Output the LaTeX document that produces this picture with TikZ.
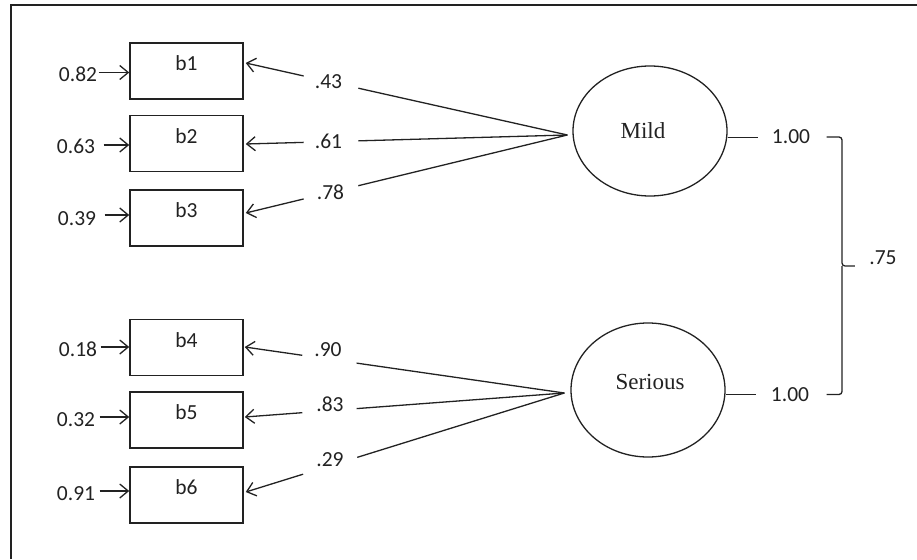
\documentclass[tikz,border=0pt]{standalone}
\usepackage{fontspec}
\setmainfont{Carlito}
\newfontfamily\serifont{Liberation Serif}
\usetikzlibrary{arrows.meta,calc,shapes.geometric}
\definecolor{ink}{HTML}{222222}
\begin{document}
\begin{tikzpicture}[x=1pt,y=-1pt, line width=1.3pt, draw=ink,
  obs/.style={draw=ink, line width=1.5pt, minimum width=113pt, minimum height=56pt, inner sep=0pt},
  lbl/.style={text=ink, font=\fontsize{21.5}{24}\selectfont, inner sep=0pt},
  lattext/.style={text=ink, font=\serifont\fontsize{23}{26}\selectfont, inner sep=0pt},
  latent/.style={draw=ink, ellipse, line width=1.3pt, inner sep=0pt, minimum width=154pt},
  arr/.style={-{Straight Barb[length=8.5pt,width=14pt,line width=1.3pt]}}
]
\useasboundingbox (0,0) rectangle (917,559);
% frame (cropped at right and bottom)
\draw[line width=2pt] (11,559) -- (11,5) -- (917,5);

% observed variables
\foreach \n/\y in {1/71,2/143.5,3/218,4/347.5,5/420,6/495}{
  \node[obs] (b\n) at (186.5,\y) {};
  \node[lbl] (b\n t) at ([yshift=-21pt]b\n.north) {b\n};
}

% error terms
\foreach \n/\x/\y/\v in {1/78/74/0.82,2/76/146/0.63,3/77/219/0.39,4/78/349/0.18,5/76/420/0.32,6/76/494/0.91}{
  \node[lbl] (e\n) at (\x,\y) {\v};
}
\foreach \n/\g/\d in {1/1/1.5,2/8/1,3/8/4,4/3/2,5/4/3,6/4/3}{
  \path ([shift={(\g,-\d)}]e\n.east) coordinate (a\n);
  \draw[arr] (a\n) -- (a\n -| b\n.west);
}

% latent variables
\node[latent, minimum height=130pt] (mild) at (650,131) {};
\node[lattext] (mildt) at (643,131) {Mild};
\node[latent, minimum height=134pt] (serious) at (648,390) {};
\node[lattext] (seriousT) at (650,382) {Serious};
\coordinate (mc) at ([shift={(-5,4)}]mild.west);
\coordinate (sc) at ([shift={(-6,3)}]serious.west);

% loading tips on the boxes
\coordinate (t1) at ([shift={(2,-8)}]b1.east);
\coordinate (t2) at ([shift={(2,0.5)}]b2.east);
\coordinate (t3) at ([shift={(2,-5)}]b3.east);
\coordinate (t4) at ([shift={(1,-0.5)}]b4.east);
\coordinate (t5) at ([shift={(1,-3)}]b5.east);
\coordinate (t6) at ([shift={(2,-3)}]b6.east);

% loading labels
\node[lbl] (l1) at (328.5,82) {.43};
\node[lbl] (l2) at (328.5,141) {.61};
\node[lbl] (l3) at (330.5,192) {.78};
\node[lbl] (l4) at (328,350) {.90};
\node[lbl] (l5) at (330,404) {.83};
\node[lbl] (l6) at (330,459.5) {.29};

% loadings (line broken around the label)
\foreach \n/\c in {1/mc,2/mc,3/mc,4/sc,5/sc,6/sc}{
  \draw[arr] (\c) -- ($(t\n)!0.35!(\c)$) ($(t\n)!0.18!(\c)$) -- (t\n);
}

% factor variances and correlation
\node[lbl] (r1) at (791,137) {1.00};
\node[lbl] (r2) at (790,394.5) {1.00};
\draw ([yshift=-0.5pt]r1.west -| mild.east) -- ([shift={(-13,0.5)}]r1.west);
\draw (r2.west -| serious.east) -- ([xshift=-14pt]r2.west);
\node[lbl] (corr) at (883,258) {.75};
\coordinate (bt) at ([xshift=16pt]r1.east);
\coordinate (bb) at ([xshift=17pt]r2.east);
\coordinate (bx) at (842,266);
\coordinate (nt) at ([shift={(-14,8)}]corr.west);
\draw[rounded corners=3pt] (bt) -- (bt -| bx) -- (bx) -- (nt);
\draw[rounded corners=3pt] (bx) -- (bx |- bb) -- (bb);
\end{tikzpicture}
\end{document}
